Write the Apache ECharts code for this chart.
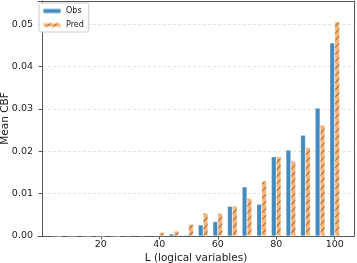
<!DOCTYPE html>
<html><head><meta charset="utf-8">
<script src="https://cdn.jsdelivr.net/npm/echarts@6/dist/echarts.min.js"></script>
<style>html,body{margin:0;padding:0;background:#fff}#c{width:357px;height:263px}</style>
</head><body><div id="c"></div>
<script>
const L = [5,10,15,20,25,30,35,40,45,50,55,60,65,70,75,80,85,90,95,100];
const obs = [0,0,0,0,0,0,0,0.00005,0.0005,0.0002,0.0026,0.0034,0.0070,0.0116,0.0075,0.0187,0.0203,0.0238,0.0302,0.0456];
const pred = [0,0,0,0,0,0.0002,0.0002,0.0009,0.0012,0.0028,0.0054,0.0054,0.0071,0.0089,0.0130,0.0187,0.0177,0.0209,0.0262,0.0506];
const xTicks = [20,40,60,80,100];

const font = 'DejaVu Sans';
const spine = {color:'#555',width:1};
const chart = echarts.init(document.getElementById('c'), null, {renderer:'canvas'});
chart.setOption({
  animation:false,
  textStyle:{fontFamily:font},
  grid:{left:38,right:3,top:1,bottom:27,containLabel:false,outerBoundsMode:'none'},
  legend:{
    show:true,left:39,top:3,orient:'vertical',itemWidth:18,itemHeight:5,itemGap:6,
    padding:[4,5,3,3],borderColor:'#ccc',borderWidth:1,borderRadius:2,backgroundColor:'#fff',
    textStyle:{fontSize:8,color:'#222',fontFamily:font},
    data:['Obs','Pred']
  },
  xAxis:[{
    type:'value',min:-1.5,max:106.6,
    name:'L (logical variables)',nameLocation:'middle',nameGap:17,nameMoveOverlap:false,
    nameTextStyle:{fontSize:10.5,color:'#222',fontFamily:font},
    axisLine:{lineStyle:spine},
    axisTick:{show:true,length:3.5,customValues:xTicks,lineStyle:{color:'#555'}},
    axisLabel:{customValues:xTicks,fontSize:9.5,color:'#222',margin:4,fontFamily:font},
    splitLine:{show:false}
  },{
    type:'value',position:'top',min:-1.5,max:106.6,
    axisLine:{show:true,onZero:false,lineStyle:spine},axisTick:{show:false},axisLabel:{show:false},splitLine:{show:false}
  }],
  yAxis:[{
    type:'value',min:0,max:0.0555,interval:0.01,
    name:'Mean CBF',nameLocation:'middle',nameGap:27,nameRotate:90,nameMoveOverlap:false,
    nameTextStyle:{fontSize:10.5,color:'#222',fontFamily:font},
    axisLine:{show:true,lineStyle:spine},
    axisTick:{show:true,length:3.5,lineStyle:{color:'#555'}},
    axisLabel:{fontSize:9.5,color:'#222',margin:5,showMaxLabel:false,fontFamily:font,
      formatter:v=>v.toFixed(2)},
    splitLine:{show:true,lineStyle:{color:'#ddd',type:[3,2],width:0.8}}
  },{
    type:'value',position:'right',min:0,max:0.0555,
    axisLine:{show:true,onZero:false,lineStyle:spine},axisTick:{show:false},axisLabel:{show:false},splitLine:{show:false}
  }],
  series:[
    {name:'Obs',type:'bar',data:L.map((x,i)=>[x,obs[i]]),barWidth:4.9,barGap:'0%',
     itemStyle:{color:'#418bbf',borderColor:'rgba(255,255,255,0.5)',borderWidth:0.5}},
    {name:'Pred',type:'bar',data:L.map((x,i)=>[x,pred[i]]),barWidth:4.9,barGap:'0%',
     itemStyle:{color:'#ffb26e',borderColor:'rgba(255,255,255,0.5)',borderWidth:0.5,
       decal:{symbol:'rect',symbolSize:1,dashArrayX:[1,0],dashArrayY:[1,4],rotation:-Math.PI/4,color:'rgba(90,90,90,0.75)'}}}
  ]
});
</script></body></html>
